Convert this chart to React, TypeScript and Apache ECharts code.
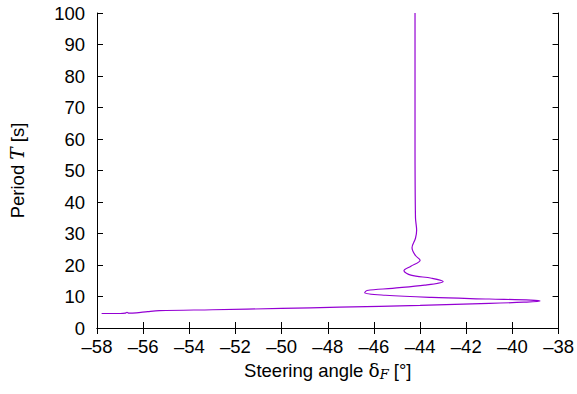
import React, { useEffect, useRef } from "react";
import * as echarts from "echarts";

const xTicks = { min: -58, max: -38, interval: 2 };
const yTicks = { min: 0, max: 100, interval: 10 };

const steeringAngle = [
  -57.8, -57.0, -56.78, -56.7, -56.62, -56.3, -55.8, -55.3, -53.0, -50.0, -47.5, -44.0, -41.0, -39.5,
  -38.8, -39.2, -41.0, -43.5, -45.5, -46.4, -46.3, -45.2, -43.8, -43.0, -43.5, -44.4, -44.7, -44.4,
  -44.0, -44.2, -44.35, -44.2, -44.15, -44.2, -44.22, -44.22,
];
const period = [
  4.6, 4.6, 4.7, 5.0, 4.7, 4.8, 5.2, 5.5, 5.8, 6.2, 6.6, 7.2, 7.8, 8.2,
  8.55, 8.85, 9.2, 9.7, 10.4, 11.2, 11.9, 12.6, 13.6, 14.8, 15.8, 16.8, 18.2, 19.6,
  21.5, 23.0, 25.5, 28.5, 31.0, 35.0, 60.0, 100.0,
];

const fmtMinus = (v: number) => (v < 0 ? "\u2013" + Math.abs(v) : String(v));

export default function App() {
  const ref = useRef<HTMLDivElement>(null);
  useEffect(() => {
    if (!ref.current) return;
    const chart = echarts.init(ref.current, undefined, { renderer: "svg" });
    const font = "'Liberation Sans', Arial, sans-serif";
    const serif = "'DejaVu Serif', 'Liberation Serif', serif";
    const fs = 18.5;
    const axisLine = { show: true, lineStyle: { color: "#000", width: 1 } };
    const tick = { show: true, inside: true, length: 6, lineStyle: { color: "#000" } };
    const data = steeringAngle.map((x, i) => [x, period[i]]);
    chart.setOption({
      animation: false,
      backgroundColor: "#fff",
      grid: { left: 95, right: 15, top: 13, bottom: 66, containLabel: false },
      xAxis: [
        {
          type: "value",
          min: xTicks.min,
          max: xTicks.max,
          interval: xTicks.interval,
          axisLine,
          axisTick: tick,
          axisLabel: { color: "#000", fontSize: fs, fontFamily: font, margin: 9, formatter: fmtMinus },
          splitLine: { show: false },
          name: "{t|Steering angle }{g|\u03B4}{sub|F}{t| [°]}",
          nameLocation: "middle",
          nameGap: 31,
          nameTextStyle: {
            rich: {
              t: { fontSize: fs, fontFamily: font, color: "#000" },
              g: { fontSize: fs, fontFamily: serif, color: "#000" },
              sub: { fontSize: 13, fontFamily: serif, fontStyle: "italic", color: "#000", verticalAlign: "bottom", padding: [8, 0, 0, 0] },
            },
          },
        },
        {
          type: "value",
          position: "top",
          min: xTicks.min,
          max: xTicks.max,
          interval: xTicks.interval,
          axisLine,
          axisTick: tick,
          axisLabel: { show: false },
          splitLine: { show: false },
        },
      ],
      yAxis: [
        {
          type: "value",
          min: yTicks.min,
          max: yTicks.max,
          interval: yTicks.interval,
          axisLine,
          axisTick: tick,
          axisLabel: { color: "#000", fontSize: fs, fontFamily: font, margin: 12 },
          splitLine: { show: false },
          name: "{t|Period }{it|T}{t| [s]}",
          nameLocation: "middle",
          nameGap: 70,
          nameRotate: 90,
          nameTextStyle: {
            rich: {
              t: { fontSize: fs, fontFamily: font, color: "#000" },
              it: { fontSize: fs, fontFamily: serif, fontStyle: "italic", color: "#000" },
            },
          },
        },
        {
          type: "value",
          position: "right",
          min: yTicks.min,
          max: yTicks.max,
          interval: yTicks.interval,
          axisLine,
          axisTick: tick,
          axisLabel: { show: false },
          splitLine: { show: false },
        },
      ],
      series: [
        {
          type: "line",
          xAxisIndex: 0,
          yAxisIndex: 0,
          data,
          smooth: 0.35,
          showSymbol: false,
          lineStyle: { color: "#9400d3", width: 1.2 },
        },
      ],
    });
    return () => chart.dispose();
  }, []);
  return <div ref={ref} style={{ width: 577, height: 394, position: "absolute", left: 0, top: 0 }} />;
}
